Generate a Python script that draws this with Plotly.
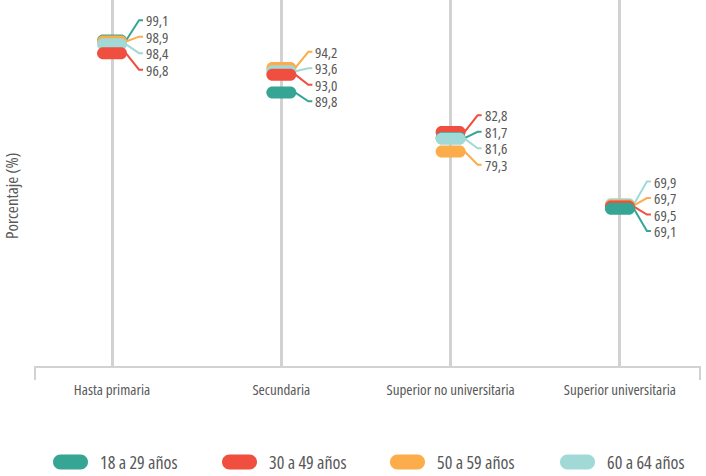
import plotly.graph_objects as go

# ---------------- data ----------------
categories = ["Hasta primaria", "Secundaria", "Superior no universitaria", "Superior universitaria"]
series_names = ["18 a 29 años", "30 a 49 años", "50 a 59 años", "60 a 64 años"]
v_18_29 = [99.1, 89.8, 81.7, 69.1]
v_30_49 = [96.8, 93.0, 82.8, 69.5]
v_50_59 = [98.9, 94.2, 79.3, 69.7]
v_60_64 = [98.4, 93.6, 81.6, 69.9]
series_values = [v_18_29, v_30_49, v_50_59, v_60_64]
colors = ["#36A594", "#F04F3F", "#FCAC4B", "#A0D9D6"]

# ---------------- layout constants ----------------
W, H = 706, 476
M_L, M_R, M_T, M_B = 35, 6, 0, 110
Y_RANGE = [41.1, 106.3]
X_RANGE = [-0.455, 3.473]
FONT = "Open Sans, Roboto Condensed, sans-serif"
TXT = "#585858"
GRID = "#D2D2D2"
PLOT_H = H - M_T - M_B
PLOT_W = W - M_L - M_R


def cond(t):
    return f"<span style='font-stretch:condensed'>{t}</span>"


def py(v):
    return M_T + (Y_RANGE[1] - v) / (Y_RANGE[1] - Y_RANGE[0]) * PLOT_H


def pill_path(hw, hh):
    k = 0.5523 * hh
    a = hw - hh
    return (f"M {-a},{-hh} L {a},{-hh} C {a+k},{-hh} {hw},{-k} {hw},0 "
            f"C {hw},{k} {a+k},{hh} {a},{hh} L {-a},{hh} "
            f"C {-a-k},{hh} {-hw},{k} {-hw},0 C {-hw},{-k} {-a-k},{-hh} {-a},{-hh} Z")


fig = go.Figure()
xs = list(range(len(categories)))

# invisible traces carrying data for hover
for name, vals, col in zip(series_names, series_values, colors):
    fig.add_trace(go.Scatter(
        x=xs, y=vals, mode="markers", name=name,
        marker=dict(color=col, size=12, opacity=0),
        showlegend=False,
        hovertemplate="%{text}<br>%{y:.1f}<extra>" + name + "</extra>",
        text=categories,
    ))

shapes = []
annotations = []
PILL = pill_path(15, 6)

for ci in xs:
    items = sorted(
        [(series_values[s][ci], s) for s in range(len(series_names))],
        key=lambda t: -t[0],
    )
    # label de-overlap in pixel space
    targets = [py(v) for v, _ in items]
    pos = list(targets)
    gap = 16.5
    for _ in range(200):
        moved = False
        for i in range(1, len(pos)):
            d = pos[i] - pos[i - 1]
            if d < gap - 1e-6:
                sh = (gap - d) / 2
                pos[i - 1] -= sh
                pos[i] += sh
                moved = True
        if not moved:
            break
    for (v, s), tp, lp in zip(items, targets, pos):
        off = tp - lp  # positive = label above point
        shapes.append(dict(
            type="path", xref="x", yref="y", xsizemode="pixel", ysizemode="pixel",
            xanchor=ci, yanchor=v, path=PILL,
            fillcolor=colors[s], line=dict(width=0), layer="above",
        ))
        shapes.append(dict(
            type="path", xref="x", yref="y", xsizemode="pixel", ysizemode="pixel",
            xanchor=ci, yanchor=v,
            path=f"M 14,0 L 27,{off:.2f} L 31,{off:.2f}",
            line=dict(color=colors[s], width=2), layer="above",
        ))
        annotations.append(dict(
            x=ci, y=v, xref="x", yref="y", xshift=33, yshift=off,
            xanchor="left", yanchor="middle", showarrow=False,
            height=16, borderpad=0,
            text=cond(f"{v:.1f}".replace(".", ",")),
            font=dict(family=FONT, size=15, color=TXT),
        ))

# end ticks of x axis
for xp in (0, 1):
    shapes.append(dict(
        type="line", xref="paper", yref="paper", ysizemode="pixel", yanchor=0,
        x0=xp, x1=xp, y0=0, y1=-14, line=dict(color=GRID, width=2), layer="below",
    ))

# custom legend (pill + text)
leg_y_px = 462
leg_pill_cx = [70.5, 239.5, 407.5, 577.5]
leg_pill = pill_path(17.5, 7.5)
for name, col, cx in zip(series_names, colors, leg_pill_cx):
    xpap = (cx - M_L) / PLOT_W
    ypap = (M_T + PLOT_H - leg_y_px) / PLOT_H
    shapes.append(dict(
        type="path", xref="paper", yref="paper", xsizemode="pixel", ysizemode="pixel",
        xanchor=xpap, yanchor=ypap, path=leg_pill,
        fillcolor=col, line=dict(width=0),
    ))
    annotations.append(dict(
        x=xpap, y=ypap, xref="paper", yref="paper", xshift=27,
        xanchor="left", yanchor="middle", showarrow=False, text=cond(name),
        font=dict(family=FONT, size=18, color=TXT),
    ))

# y axis title
annotations.append(dict(
    x=0, y=(M_T + PLOT_H - 196) / PLOT_H, xref="paper", yref="paper", xshift=-23,
    xanchor="center", yanchor="middle", showarrow=False, textangle=-90,
    text=cond("Porcentaje (%)"), font=dict(family=FONT, size=17, color=TXT),
))

fig.update_layout(
    width=W, height=H,
    margin=dict(l=M_L, r=M_R, t=M_T, b=M_B),
    paper_bgcolor="white", plot_bgcolor="white",
    showlegend=False,
    shapes=shapes, annotations=annotations,
    font=dict(family=FONT, color=TXT),
    xaxis=dict(
        range=X_RANGE, tickvals=xs, ticktext=[cond(c) for c in categories],
        showgrid=True, gridcolor=GRID, gridwidth=3, zeroline=False,
        showline=True, linecolor=GRID, linewidth=2,
        ticks="outside", ticklen=9, tickcolor="rgba(0,0,0,0)",
        tickfont=dict(family=FONT, size=15, color=TXT),
        fixedrange=True,
    ),
    yaxis=dict(
        range=Y_RANGE, showgrid=False, zeroline=False, showticklabels=False,
        showline=False, fixedrange=True,
    ),
)

fig.write_html("out.html", config={"displayModeBar": False},
               post_script="document.body.style.margin='0';")
